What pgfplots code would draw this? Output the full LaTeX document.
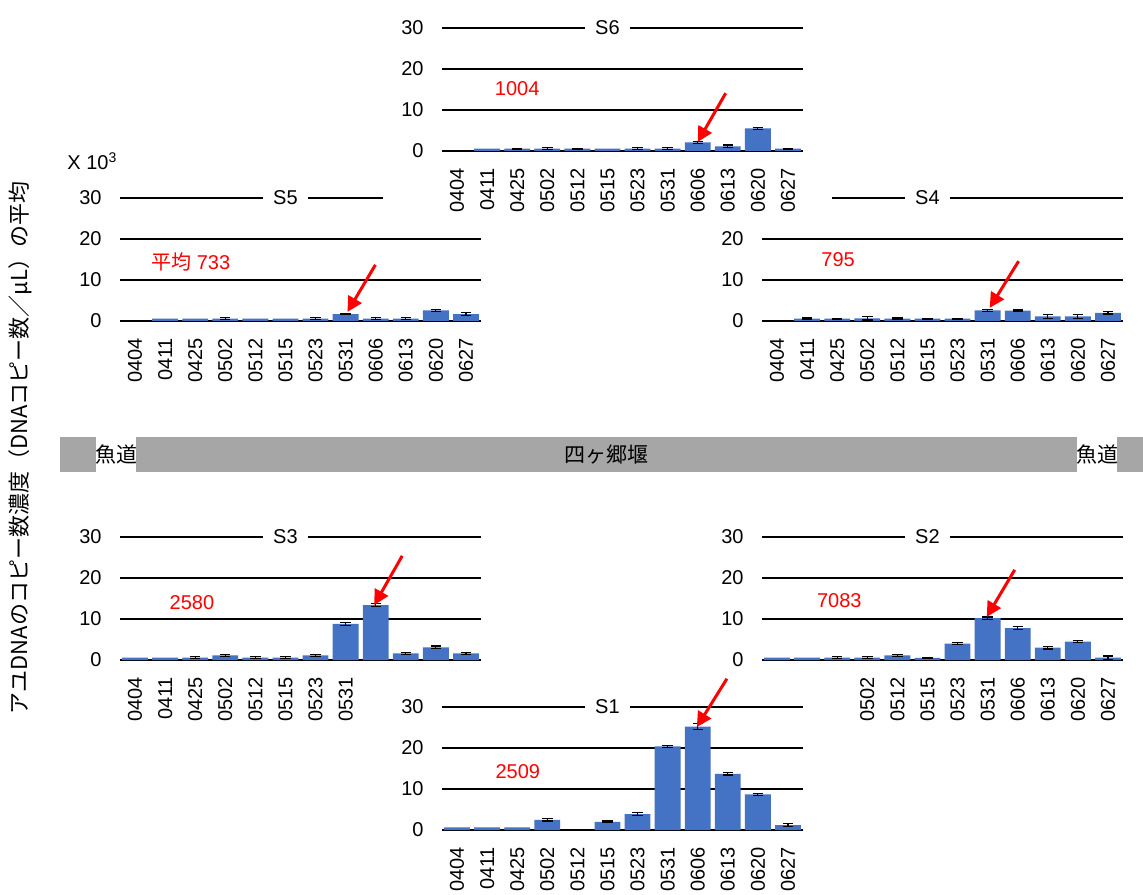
\documentclass[border=0pt]{standalone}
\usepackage{pgfplots}
\pgfplotsset{compat=1.18}
\usetikzlibrary{arrows.meta}
\usepackage{fontspec}
\setmainfont{Liberation Sans}
\newfontfamily\jp{Noto Sans CJK JP}
\definecolor{barblue}{HTML}{4472C4}
\definecolor{bandgray}{HTML}{A6A6A6}
\tikzset{redarrow/.style={red, line width=1.5pt, -{Triangle[length=7.5pt,width=7.5pt]}}}
\pgfplotsset{
  panel/.style={
    anchor=south west, scale only axis,
    width=180.5pt, height=61.5pt,
    xmin=-0.5, xmax=11.5, ymin=0, ymax=30,
    ytick={0,10,20,30}, yticklabels={0,10,20,30},
    xtick={0,...,11},
    xticklabels={0404,0411,0425,0502,0512,0515,0523,0531,0606,0613,0620,0627},
    x tick label style={rotate=90, anchor=east, inner xsep=4pt},
    y tick label style={anchor=east, inner xsep=9pt},
    tick label style={font=\fontsize{10}{12}\selectfont},
    ymajorgrids, grid style={black, line width=0.6pt},
    major tick style={draw=none},
    axis line style={draw=none},
    ybar, bar width=0.86, bar shift=0pt,
    clip=false,
  },
  barerr/.style={fill=barblue, draw=none, bar shift=0pt,
    error bars/.cd, y dir=both, y explicit,
    error bar style={black, line width=0.6pt},
    error mark options={rotate=90, black, mark size=2.6pt, line width=0.6pt}},
  barplain/.style={fill=barblue, draw=none, bar shift=0pt},
}
\begin{document}
\begin{tikzpicture}
\path[use as bounding box] (0pt,0pt) rectangle (571.5pt,447pt);

% S5
\begin{axis}[panel, at={(60pt,286.5pt)}]
\addplot[barplain] coordinates {(1,0.6) (2,0.6) (4,0.6) (5,0.6)};
\addplot[barerr] coordinates {(3,0.6) +- (0,0.2) (6,0.6) +- (0,0.2) (7,1.7) +- (0,0.2) (8,0.6) +- (0,0.2) (9,0.6) +- (0,0.2) (10,2.6) +- (0,0.2) (11,1.7) +- (0,0.4)};
\node[fill=white, inner xsep=5pt, inner ysep=1pt] at (axis cs:5,30) {S5};
\node[text=red] at (axis cs:1.85,14.4) {{\jp 平均} 733};
\draw[redarrow] (axis cs:7.99,13.7) -- (axis cs:7.06,2.2);
\end{axis}

% S4
\begin{axis}[panel, at={(381pt,286.5pt)}]
\addplot[barerr] coordinates {(1,0.6) +- (0,0.15) (2,0.6) +- (0,0.1) (3,0.65) +- (0,0.4) (4,0.6) +- (0,0.15) (5,0.6) +- (0,0.1) (6,0.6) +- (0,0.1) (7,2.6) +- (0,0.3) (8,2.5) +- (0,0.2) (9,1.1) +- (0,0.4) (10,1.1) +- (0,0.4) (11,2.0) +- (0,0.3)};
\node[fill=white, inner xsep=5pt, inner ysep=1pt] at (axis cs:5,30) {S4};
\node[text=red] at (axis cs:2.03,14.9) {795};
\draw[redarrow] (axis cs:8.03,14.6) -- (axis cs:7.07,3.2);
\end{axis}

% S3
\begin{axis}[panel, at={(60pt,117pt)}]
\addplot[barplain] coordinates {(0,0.6) (1,0.6)};
\addplot[barerr] coordinates {(2,0.6) +- (0,0.2) (3,1.1) +- (0,0.3) (4,0.6) +- (0,0.2) (5,0.6) +- (0,0.2) (6,1.1) +- (0,0.3) (7,8.8) +- (0,0.3) (8,13.4) +- (0,0.3) (9,1.6) +- (0,0.3) (10,3.1) +- (0,0.3) (11,1.6) +- (0,0.3)};
\node[fill=white, inner xsep=5pt, inner ysep=1pt] at (axis cs:5,30) {S3};
\node[text=red] at (axis cs:1.89,14.1) {2580};
\draw[redarrow] (axis cs:8.88,25.4) -- (axis cs:7.95,13.4);
\end{axis}

% S2
\begin{axis}[panel, at={(381pt,117pt)}]
\addplot[barplain] coordinates {(0,0.6) (1,0.6)};
\addplot[barerr] coordinates {(2,0.6) +- (0,0.2) (3,0.6) +- (0,0.3) (4,1.1) +- (0,0.3) (5,0.5) +- (0,0.2) (6,4.0) +- (0,0.3) (7,10.2) +- (0,0.3) (8,7.8) +- (0,0.3) (9,3.0) +- (0,0.3) (10,4.5) +- (0,0.3) (11,0.6) +- (0,0.4)};
\node[fill=white, inner xsep=5pt, inner ysep=1pt] at (axis cs:5,30) {S2};
\node[text=red] at (axis cs:2.07,14.6) {7083};
\draw[redarrow] (axis cs:7.9,22) -- (axis cs:6.97,10.5);
\end{axis}

% cover box and S6
\fill[white] (191.5pt,341pt) rectangle (416pt,447pt);
\begin{axis}[panel, at={(221pt,371.5pt)}]
\addplot[barplain] coordinates {(1,0.55) (5,0.55)};
\addplot[barerr] coordinates {(2,0.55) +- (0,0.15) (3,0.6) +- (0,0.3) (4,0.55) +- (0,0.15) (6,0.6) +- (0,0.3) (7,0.6) +- (0,0.3) (8,2.1) +- (0,0.3) (9,1.15) +- (0,0.3) (10,5.5) +- (0,0.3) (11,0.55) +- (0,0.15)};
\node[fill=white, inner xsep=5pt, inner ysep=1pt] at (axis cs:5,30) {S6};
\node[text=red] at (axis cs:2.0,15.1) {1004};
\draw[redarrow] (axis cs:8.93,14.1) -- (axis cs:8.0,2.2);
\end{axis}

% cover box and S1
\fill[white] (181pt,0pt) rectangle (425pt,113pt);
\begin{axis}[panel, at={(221pt,32pt)}]
\addplot[barplain] coordinates {(0,0.65) (1,0.65) (2,0.65)};
\addplot[barerr] coordinates {(3,2.5) +- (0,0.3) (5,2.0) +- (0,0.2) (6,3.9) +- (0,0.3) (7,20.4) +- (0,0.3) (8,25.2) +- (0,0.7) (9,13.7) +- (0,0.3) (10,8.7) +- (0,0.2) (11,1.2) +- (0,0.4)};
\node[fill=white, inner xsep=5pt, inner ysep=1pt] at (axis cs:5,30) {S1};
\node[text=red] at (axis cs:2.02,14.25) {2509};
\draw[redarrow] (axis cs:8.97,36.9) -- (axis cs:7.97,25.1);
\end{axis}

\begin{scope}[x=0.5pt,y=0.5pt]
% band
\fill[bandgray] (60,422) rectangle (1143,457);
\fill[white] (96,422) rectangle (136,457);
\fill[white] (1077,422) rectangle (1117,457);
\node[font=\jp\fontsize{10.5}{12}\selectfont, inner sep=0pt] at (116,439.5) {魚道};
\node[font=\jp\fontsize{10.5}{12}\selectfont, inner sep=0pt] at (1097,439.5) {魚道};
\node[font=\jp\fontsize{10.5}{12}\selectfont, inner sep=0pt] at (606,439.5) {四ヶ郷堰};
% labels
\node[anchor=base west, inner sep=0pt, font=\fontsize{10}{12}\selectfont] at (67,724) {X 10\textsuperscript{3}};
\node[rotate=90, inner sep=0pt, font=\jp\fontsize{11}{13}\selectfont] at (20,446) {アユDNAのコピー数濃度（DNAコピー数／μL）の平均};
\end{scope}
\end{tikzpicture}
\end{document}
